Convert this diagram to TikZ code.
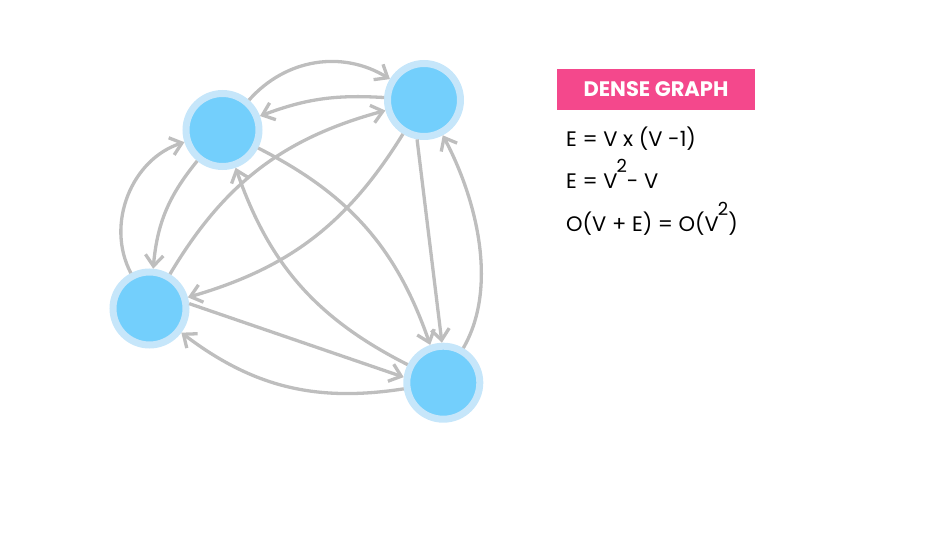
\documentclass[tikz,border=0pt]{standalone}
\usepackage{fontspec}
\setmainfont{Poppins}
\usetikzlibrary{arrows.meta}
\definecolor{edgegray}{RGB}{190,190,190}
\definecolor{ringblue}{RGB}{198,230,250}
\definecolor{coreblue}{RGB}{115,207,252}
\definecolor{pinkbox}{RGB}{244,72,140}
\newcommand\mysqr{\kern-1pt\raisebox{16pt}{\fontsize{18}{18}\selectfont 2}}
\begin{document}
\begin{tikzpicture}[x=1pt,y=1pt,
  vtx/.style={circle, draw=ringblue, line width=7pt, fill=coreblue, minimum size=73pt, inner sep=0pt},
  edge/.style={draw=edgegray, line width=3.3pt, -{Straight Barb[length=11pt,width=18pt]}},
  eq/.style={anchor=base west, font=\fontsize{21}{25}\selectfont, inner sep=0pt}]
\useasboundingbox (0,0) rectangle (947,-535);
\node[vtx] (A) at (222.5,-130) {};
\node[vtx] (B) at (424,-100) {};
\node[vtx] (C) at (149.5,-308.5) {};
\node[vtx] (D) at (443.3,-382.7) {};
\draw[edge] (A) to[bend left=40] (B);
\draw[edge] (B) to[bend right=12] (A);
\draw[edge] (C) to[bend left=22] (B);
\draw[edge] (B) to[bend left=21] (C);
\draw[edge] (C) to[bend left=50] (A);
\draw[edge] (A) to[bend right=17] (C);
\draw[edge] (A) to[bend left=22] (D);
\draw[edge] (D) to[bend left=22] (A);
\draw[edge] (B.-100) -- (D.92);
\draw[edge] (D) to[out=60,in=-62,looseness=0.85] (B);
\draw[edge] (C.7) -- (D.172);
\draw[edge] (D) to[bend left=23] (C);
\node[fill=pinkbox, minimum width=198pt, minimum height=41pt, inner sep=0pt, text=white,
  font=\bfseries\fontsize{21}{25}\selectfont] (title) at (656,-89.5) {DENSE GRAPH};
\node[eq] (e1) at (566,-146) {E = V x (V -1)};
\node[eq] (e2) at (566,-188) {E = V\mysqr- V};
\node[eq] (e3) at (566,-231) {O(V + E) = O(V\mysqr)};
\end{tikzpicture}
\end{document}
